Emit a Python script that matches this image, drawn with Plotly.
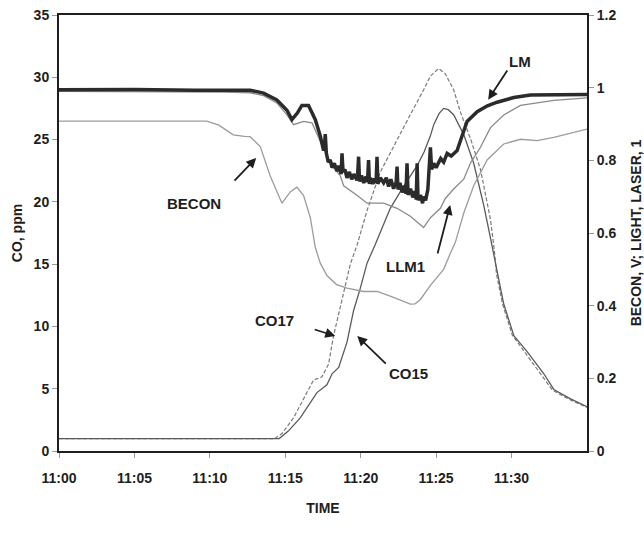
import plotly.graph_objects as go

# ---- axis ticks ----
x_tick_minutes = [0, 5, 10, 15, 20, 25, 30]
x_tick_labels = ["11:00", "11:05", "11:10", "11:15", "11:20", "11:25", "11:30"]
y_left_ticks = [0, 5, 10, 15, 20, 25, 30, 35]
y_right_ticks = [0, 0.2, 0.4, 0.6, 0.8, 1.0, 1.2]
y_right_labels = ["0", "0.2", "0.4", "0.6", "0.8", "1", "1.2"]

# ---- CO17 (ppm, dashed) ----
co17_t = [0, 14.3, 14.78, 15.55, 16.43, 16.88, 17.43, 17.87, 18.2, 18.54, 18.98, 19.31, 19.75,
          20.42, 21.3, 22.18, 23.07, 24.17, 24.62, 25.17, 25.6, 26.16, 26.61, 27.27, 27.94,
          28.6, 28.85, 29.0, 29.4, 30.05, 30.9, 32.0, 32.7, 33.8, 35]
co17 = [1.0, 1.0, 1.4, 2.66, 4.69, 5.7, 5.95, 6.97, 9.25, 11.0, 13.05, 15.0, 16.5,
        19.3, 22.4, 24.5, 26.5, 29.0, 30.1, 30.7, 30.3, 29.0, 27.2, 25.1, 22.6,
        18.6, 16.2, 14.2, 11.8, 9.3, 7.9, 6.1, 4.9, 4.15, 3.5]

# ---- CO15 (ppm, solid) ----
co15_t = [0, 14.6, 15.2, 15.99, 17.1, 17.76, 18.1, 18.54, 19.09, 19.53, 19.97, 20.42, 20.97,
          21.96, 22.85, 23.74, 24.2, 24.62, 24.84, 25.2, 25.5, 25.8, 26.16, 26.83, 27.49,
          28.16, 28.6, 29.04, 29.48, 30.15, 31.03, 32.14, 32.8, 33.91, 35]
co15 = [1.0, 1.0, 1.6, 2.66, 4.69, 5.32, 6.2, 6.71, 8.74, 11.28, 13.05, 15.08, 16.6,
        19.48, 21.27, 22.9, 24.0, 25.3, 26.2, 27.1, 27.5, 27.4, 27.0, 25.4, 23.1,
        19.7, 17.1, 14.3, 11.8, 9.25, 7.98, 6.2, 4.94, 4.18, 3.55]

# ---- LM (right axis, thick, noisy band) ----
lm_t = [0, 5, 9, 11.0, 12.67, 13.56, 14.44, 15.11, 15.44, 15.8, 16.1, 16.54, 16.99, 17.32,
        17.45, 17.54, 17.6, 17.65, 17.72, 17.85, 17.98, 18.1, 18.25, 18.43, 18.55, 18.7,
        18.76, 18.83, 18.95, 19.09, 19.25, 19.4, 19.55, 19.75, 19.8, 19.86, 19.92, 20.05,
        20.2, 20.35, 20.45, 20.52, 20.58, 20.64, 20.8, 20.9, 21.02, 21.08, 21.14, 21.3,
        21.52, 21.7, 21.85, 22.0, 22.18, 22.35, 22.41, 22.47, 22.6, 22.75, 22.9, 23.0,
        23.07, 23.14, 23.3, 23.45, 23.6, 23.68, 23.74, 23.8, 23.96, 24.1, 24.17, 24.3,
        24.45, 24.55, 24.62, 24.7, 24.84, 25.0, 25.3, 25.5, 25.73, 26.0, 26.39, 26.61, 27.05,
        27.72, 28.4, 29.04, 30.15, 31.25, 32.8, 35]
lm = [0.994, 0.995, 0.993, 0.992, 0.993, 0.985, 0.966, 0.938, 0.912, 0.93, 0.951, 0.951,
      0.912, 0.867, 0.845, 0.827, 0.84, 0.872, 0.82, 0.795, 0.801, 0.78, 0.792, 0.77,
      0.785, 0.762, 0.819, 0.768, 0.775, 0.752, 0.768, 0.748, 0.762, 0.745, 0.762, 0.81,
      0.742, 0.758, 0.738, 0.755, 0.74, 0.801, 0.735, 0.752, 0.735, 0.75, 0.738, 0.81,
      0.735, 0.752, 0.738, 0.752, 0.728, 0.748, 0.722, 0.74, 0.783, 0.72, 0.738, 0.712,
      0.73, 0.708, 0.792, 0.705, 0.722, 0.698, 0.715, 0.692, 0.792, 0.69, 0.705, 0.682,
      0.7, 0.69, 0.72, 0.78, 0.836, 0.775, 0.792, 0.78, 0.805, 0.795, 0.819, 0.812, 0.827,
      0.854, 0.907, 0.934, 0.95, 0.96, 0.973, 0.98, 0.981, 0.981]

# ---- LLM1 (right axis, thin gray) ----
llm1_t = [0, 9, 11.0, 12.67, 13.56, 14.44, 15.11, 15.55, 16.21, 16.77, 17.3, 18.0, 18.65,
          18.87, 19.75, 20.42, 21.52, 22.41, 23.29, 23.96, 24.17, 24.62, 25.28, 25.61, 26.16,
          26.83, 27.27, 27.94, 28.6, 29.48, 30.59, 32.8, 35]
llm1 = [0.99, 0.99, 0.988, 0.986, 0.978, 0.958, 0.925, 0.898, 0.907, 0.903, 0.855, 0.79,
        0.757, 0.73, 0.704, 0.682, 0.682, 0.668, 0.646, 0.622, 0.615, 0.642, 0.668, 0.695,
        0.721, 0.748, 0.792, 0.836, 0.89, 0.925, 0.951, 0.965, 0.972]

# ---- BECON (right axis, thin gray) ----
becon_t = [0, 9.8, 10.6, 11.55, 12.3, 12.67, 13.34, 14.0, 14.78, 15.33, 15.77, 16.21, 16.66,
           16.99, 17.32, 17.76, 18.4, 19.09, 20.2, 21.08, 21.96, 23.29, 23.6, 23.96, 24.62,
           25.5, 25.95, 26.28, 26.83, 27.49, 28.38, 29.48, 30.59, 31.7, 32.8, 34.79, 35]
becon = [0.908, 0.908, 0.897, 0.87, 0.866, 0.865, 0.838, 0.757, 0.682, 0.713, 0.726, 0.704,
         0.642, 0.56, 0.517, 0.483, 0.458, 0.448, 0.439, 0.439, 0.426, 0.404, 0.405, 0.417,
         0.456, 0.5, 0.545, 0.575, 0.655, 0.73, 0.801, 0.845, 0.858, 0.854, 0.863, 0.885, 0.886]

FONT = "Liberation Sans, Arial, sans-serif"
INK = "#1e1e1e"

fig = go.Figure()
fig.add_trace(go.Scatter(x=becon_t, y=becon, yaxis="y2", mode="lines", name="BECON",
                         line=dict(color="#9c9c9c", width=1.3)))
fig.add_trace(go.Scatter(x=llm1_t, y=llm1, yaxis="y2", mode="lines", name="LLM1",
                         line=dict(color="#8a8a8a", width=1.3)))
fig.add_trace(go.Scatter(x=co17_t, y=co17, mode="lines", name="CO17",
                         line=dict(color="#7a7a7a", width=1.2, dash="4px,2px")))
fig.add_trace(go.Scatter(x=co15_t, y=co15, mode="lines", name="CO15",
                         line=dict(color="#5a5a5a", width=1.3)))
fig.add_trace(go.Scatter(x=lm_t, y=lm, yaxis="y2", mode="lines", name="LM",
                         line=dict(color="#2b2b2b", width=3.5)))

lab_font = dict(family=FONT, size=15, color=INK, weight="bold")

# text labels (data coords: minutes, ppm)
labels = [("LM", 30.58, 31.3), ("BECON", 8.95, 19.9), ("LLM1", 23.0, 14.8),
          ("CO17", 14.26, 10.5), ("CO15", 23.15, 6.2)]
for txt, lx, ly in labels:
    fig.add_annotation(x=lx, y=ly, text=txt, showarrow=False, font=lab_font)

# arrows: (tail_x, tail_y, head_x, head_y)
arrows = [(29.78, 30.67, 28.45, 28.2), (11.54, 21.59, 13.07, 23.52),
          (25.07, 15.73, 25.93, 19.75), (16.85, 9.79, 18.31, 9.23),
          (21.76, 6.9, 19.77, 9.23)]
for tx, ty, hx, hy in arrows:
    fig.add_annotation(x=hx, y=hy, ax=tx, ay=ty, axref="x", ayref="y", xref="x", yref="y",
                       text="", showarrow=True, arrowhead=2, arrowsize=1.1, arrowwidth=1.8,
                       arrowcolor=INK)

tick_font = dict(family=FONT, size=14, color=INK, weight="bold")
title_font = dict(family=FONT, size=14, color=INK, weight="bold")

fig.update_layout(
    width=644, height=535,
    margin=dict(l=59, r=57, t=15, b=84, autoexpand=False),
    paper_bgcolor="white", plot_bgcolor="white",
    showlegend=False,
    xaxis=dict(range=[0, 35], tickvals=x_tick_minutes, ticktext=x_tick_labels,
               showline=True, linecolor=INK, linewidth=2, mirror=True,
               ticks="outside", ticklen=5, tickcolor="#999", tickwidth=1,
               ticklabelstandoff=8,
               showgrid=False, zeroline=False, tickfont=tick_font, automargin=False,
               title=dict(text="TIME", font=title_font, standoff=18)),
    yaxis=dict(range=[0, 35], tickvals=y_left_ticks,
               showline=True, linecolor=INK, linewidth=2,
               ticks="outside", ticklen=5, tickcolor="#999", tickwidth=1,
               showgrid=False, zeroline=False, tickfont=tick_font, automargin=False,
               title=dict(text="CO, ppm", font=title_font, standoff=8)),
    yaxis2=dict(range=[0, 1.2], tickvals=y_right_ticks, ticktext=y_right_labels,
                overlaying="y", side="right",
                showline=True, linecolor=INK, linewidth=2,
                ticks="outside", ticklen=5, tickcolor="#999", tickwidth=1,
                showgrid=False, zeroline=False, tickfont=tick_font, automargin=False,
                title=dict(text="BECON, V; LIGHT, LASER, 1", font=title_font, standoff=16)),
)

fig.write_html("out.html")
